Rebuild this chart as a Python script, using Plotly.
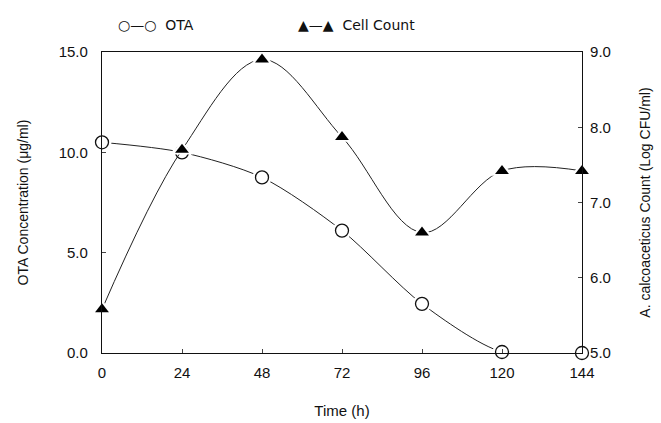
import plotly.graph_objects as go

time_h = [0, 24, 48, 72, 96, 120, 144]
ota_conc = [10.5, 10.0, 8.75, 6.1, 2.45, 0.05, 0.0]
cell_count = [5.58, 7.7, 8.9, 7.87, 6.6, 7.42, 7.42]
x_ticks = [0, 24, 48, 72, 96, 120, 144]
legend_labels = ["○—○  OTA", "▲—▲  Cell Count"]

FONT = "Liberation Sans"

fig = go.Figure()
# lines
fig.add_trace(go.Scatter(
    x=time_h, y=ota_conc, name="OTA", mode="lines",
    line=dict(color="#222", width=1, shape="spline", smoothing=0.8),
    cliponaxis=False, yaxis="y", showlegend=False, hoverinfo="skip"))
fig.add_trace(go.Scatter(
    x=time_h, y=cell_count, name="Cell Count", mode="lines",
    line=dict(color="#222", width=1, shape="spline", smoothing=1.0),
    cliponaxis=False, yaxis="y2", showlegend=False, hoverinfo="skip"))
# white halos (gaps around markers)
fig.add_trace(go.Scatter(
    x=time_h, y=ota_conc, mode="markers",
    marker=dict(symbol="circle", size=19, color="white"),
    cliponaxis=False, yaxis="y", showlegend=False, hoverinfo="skip"))
fig.add_trace(go.Scatter(
    x=time_h, y=cell_count, mode="markers",
    marker=dict(symbol="triangle-up", size=19, color="white"),
    cliponaxis=False, yaxis="y2", showlegend=False, hoverinfo="skip"))
# markers
fig.add_trace(go.Scatter(
    x=time_h, y=ota_conc, name="OTA", mode="markers",
    marker=dict(symbol="circle", size=13, color="white", line=dict(width=1.3, color="#111")),
    cliponaxis=False, yaxis="y", showlegend=False))
fig.add_trace(go.Scatter(
    x=time_h, y=cell_count, name="Cell Count", mode="markers",
    marker=dict(symbol="triangle-up", size=12, color="#000"),
    cliponaxis=False, yaxis="y2", showlegend=False))

fig.add_annotation(text=legend_labels[0], xref="paper", yref="paper", x=0.03, y=1.09,
                   xanchor="left", yanchor="middle", showarrow=False,
                   font=dict(size=14, family="DejaVu Sans"))
fig.add_annotation(text=legend_labels[1], xref="paper", yref="paper", x=0.405, y=1.09,
                   xanchor="left", yanchor="middle", showarrow=False,
                   font=dict(size=14, family="DejaVu Sans"))

fig.update_layout(
    width=661, height=423,
    margin=dict(l=102, r=79, t=52, b=70, autoexpand=False),
    paper_bgcolor="white", plot_bgcolor="white",
    font=dict(family=FONT, size=15, color="#111"),
    showlegend=False,
    xaxis=dict(range=[0, 144], tickvals=x_ticks, ticktext=[str(v) for v in x_ticks],
               ticks="inside", ticklen=4, showline=True, linecolor="#111", linewidth=1.2,
               mirror=True, showgrid=False, zeroline=False, ticklabelstandoff=6,
               title=dict(text="Time (h)", font=dict(size=15), standoff=25)),
    yaxis=dict(range=[0, 15], tickvals=[0, 5, 10, 15], tickformat=".1f",
               ticks="inside", ticklen=4, showline=True, linecolor="#111", linewidth=1.2,
               showgrid=False, zeroline=False, ticklabelstandoff=10,
               title=dict(text="OTA Concentration (μg/ml)", font=dict(size=14), standoff=26)),
    yaxis2=dict(range=[5, 9], tickvals=[5, 6, 7, 8, 9], tickformat=".1f",
                overlaying="y", side="right",
                ticks="inside", ticklen=4, showline=True, linecolor="#111", linewidth=1.2,
                showgrid=False, zeroline=False, ticklabelstandoff=4,
                title=dict(text="A. calcoaceticus Count (Log CFU/ml)", font=dict(size=14), standoff=30)),
)

fig.write_html("out.html")
